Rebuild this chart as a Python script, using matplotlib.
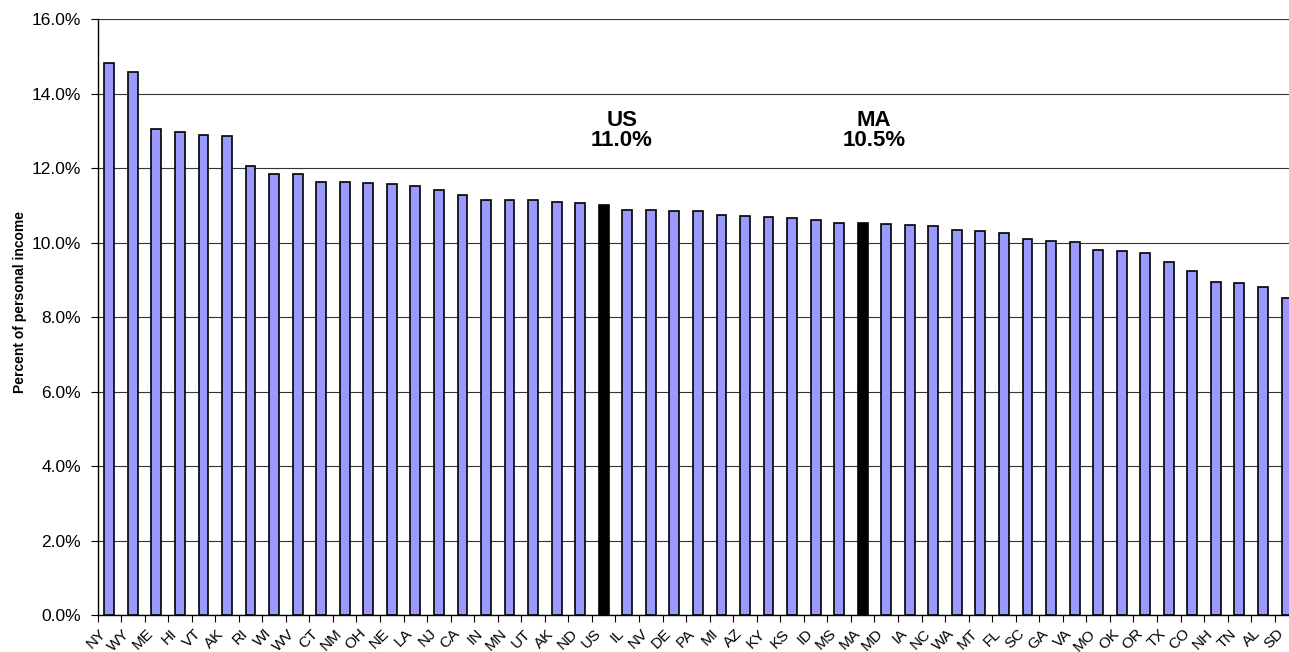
import matplotlib
matplotlib.use("Agg")
import matplotlib.pyplot as plt
from matplotlib.ticker import FuncFormatter, MultipleLocator, FixedLocator
from matplotlib.transforms import ScaledTranslation

plt.rcParams['font.family'] = ['Liberation Sans', 'DejaVu Sans']

states = ["NY", "WY", "ME", "HI", "VT", "AK", "RI", "WI", "WV", "CT", "NM", "OH",
          "NE", "LA", "NJ", "CA", "IN", "MN", "UT", "AK", "ND", "US", "IL", "NV",
          "DE", "PA", "MI", "AZ", "KY", "KS", "ID", "MS", "MA", "MD", "IA", "NC",
          "WA", "MT", "FL", "SC", "GA", "VA", "MO", "OK", "OR", "TX", "CO", "NH",
          "TN", "AL", "SD"]
values = [14.81, 14.58, 13.05, 12.96, 12.89, 12.85, 12.06, 11.85, 11.84, 11.63, 11.62, 11.61,
          11.58, 11.53, 11.42, 11.28, 11.15, 11.14, 11.14, 11.09, 11.07, 11.02, 10.88, 10.87,
          10.86, 10.85, 10.74, 10.72, 10.68, 10.66, 10.61, 10.53, 10.53, 10.51, 10.47, 10.45,
          10.33, 10.30, 10.25, 10.09, 10.05, 10.03, 9.81, 9.77, 9.73, 9.47, 9.24, 8.94,
          8.93, 8.81, 8.52]
highlight = ["US", "MA"]
annotations = {"US": "US\n11.0%", "MA": "MA\n10.5%"}

W, H = 1289, 652
fig = plt.figure(figsize=(W / 100, H / 100), dpi=100)
ax = fig.add_axes([97.5 / W, 36.6 / H, 1200.8 / W, 596.4 / H])

x = list(range(len(states)))
colors = ["black" if s in highlight else "#9999FF" for s in states]
ax.bar(x, values, width=0.42, color=colors, edgecolor="black", linewidth=1.2, zorder=3)

ax.set_xlim(-0.5, len(states) - 0.5)
ax.set_ylim(0, 16)

ax.yaxis.set_major_locator(MultipleLocator(2))
ax.yaxis.set_major_formatter(FuncFormatter(lambda v, p: f"{v:.1f}%"))
ax.grid(axis="y", color="#333333", linewidth=0.8, zorder=0)
ax.tick_params(axis="y", direction="out", length=5, width=0.8, pad=7, labelsize=12.5)

# major ticks at category boundaries, labels at centers (minor)
ax.xaxis.set_major_locator(FixedLocator([i - 0.5 for i in x]))
ax.xaxis.set_major_formatter(FuncFormatter(lambda v, p: ""))
ax.set_xticks(x, minor=True)
ax.set_xticklabels(states, minor=True, rotation=45, ha="right", va="top",
                   rotation_mode="anchor", fontsize=11)
ax.tick_params(axis="x", which="major", direction="out", length=5, width=0.8)
ax.tick_params(axis="x", which="minor", length=0, pad=8)
for lab in ax.get_xticklabels(minor=True):
    lab.set_transform(lab.get_transform() + ScaledTranslation(-0.10, 0, fig.dpi_scale_trans))

for side in ["top", "right"]:
    ax.spines[side].set_visible(False)
ax.spines["left"].set_linewidth(1.0)
ax.spines["bottom"].set_linewidth(1.0)

ax.set_ylabel("Percent of personal income", fontsize=10, fontweight="bold")
ax.yaxis.set_label_coords(-0.059, 0.526)

offsets = {"US": 18, "MA": 11}
for s, txt in annotations.items():
    i = states.index(s)
    ax.annotate(txt, xy=(i, 13.0), xytext=(offsets[s], 0), textcoords="offset pixels",
                ha="center", va="center", fontsize=16, fontweight="bold", linespacing=0.95)

fig.savefig("out.png", dpi=100)
